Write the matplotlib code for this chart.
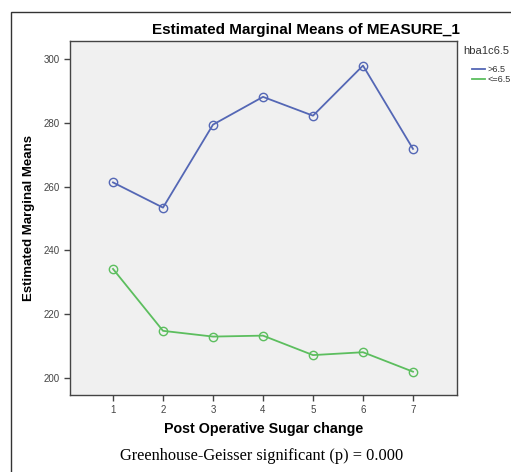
import matplotlib
matplotlib.use("Agg")
import matplotlib.pyplot as plt
from matplotlib.patches import Rectangle
from matplotlib.lines import Line2D

# Data
timepoints = [1, 2, 3, 4, 5, 6, 7]
above_65 = [261.3, 253.4, 279.4, 288.1, 282.2, 297.9, 271.8]
below_65 = [234.2, 214.8, 213.0, 213.3, 207.2, 208.1, 202.0]
series_labels = [">6.5", "<=6.5"]
y_ticks = [200, 220, 240, 260, 280, 300]

BLUE = "#5467B5"
GREEN = "#5CBE5E"

plt.rcParams["font.family"] = ["Liberation Sans", "DejaVu Sans"]

fig = plt.figure(figsize=(5.11, 4.72), dpi=100)

# outer frame (cut off on right and bottom)
fig.patches.append(Rectangle((11 / 511, -0.05), 1.2, 1 - 12 / 472 + 0.05,
                             transform=fig.transFigure, fill=False,
                             edgecolor="#333333", linewidth=1.0))

ax = fig.add_axes([70 / 511, 1 - 395 / 472, 387 / 511, 354 / 472])
ax.set_facecolor("#F0F0F0")

ax.plot(timepoints, above_65, color=BLUE, linewidth=1.3, marker="o",
        markersize=6, markerfacecolor="none", markeredgecolor=BLUE, markeredgewidth=1.0)
ax.plot(timepoints, below_65, color=GREEN, linewidth=1.3, marker="o",
        markersize=6, markerfacecolor="none", markeredgecolor=GREEN, markeredgewidth=1.0)

ax.set_xlim(0.14, 7.88)
ax.set_ylim(194.7, 305.6)
ax.set_xticks(timepoints)
ax.set_yticks(y_ticks)
ax.tick_params(axis="both", direction="out", length=4, width=1, colors="#444444",
               labelsize=7, labelcolor="#444444")
for s in ax.spines.values():
    s.set_color("#444444")
    s.set_linewidth(1.0)

ax.set_ylabel("Estimated Marginal Means", fontsize=9.5, fontweight="bold", labelpad=6)
ax.set_xlabel("Post Operative Sugar change", fontsize=10.3, fontweight="bold", labelpad=5)

# title is centred over the whole chart (plot + legend)
fig.text(306 / 511, 1 - 30 / 472, "Estimated Marginal Means of MEASURE_1",
         fontsize=11, fontweight="bold", ha="center", va="center")

# legend drawn outside on the right
fig.text(463 / 511, 1 - 51 / 472, "hba1c6.5", fontsize=8, color="#333333", va="center", ha="left")
for i, (lab, col) in enumerate(zip(series_labels, [BLUE, GREEN])):
    yy = 1 - (69 + 10 * i) / 472
    fig.lines.append(Line2D([472 / 511, 485 / 511], [yy, yy], transform=fig.transFigure,
                            color=col, linewidth=1.3))
    fig.text(488 / 511, yy, lab, fontsize=6.5, color="#333333", va="center", ha="left")

fig.text(262 / 511, 1 - 456 / 472, "Greenhouse-Geisser significant (p) = 0.000",
         fontsize=11.8, family="Liberation Serif", ha="center", va="center")

fig.savefig("out.png", dpi=100)
